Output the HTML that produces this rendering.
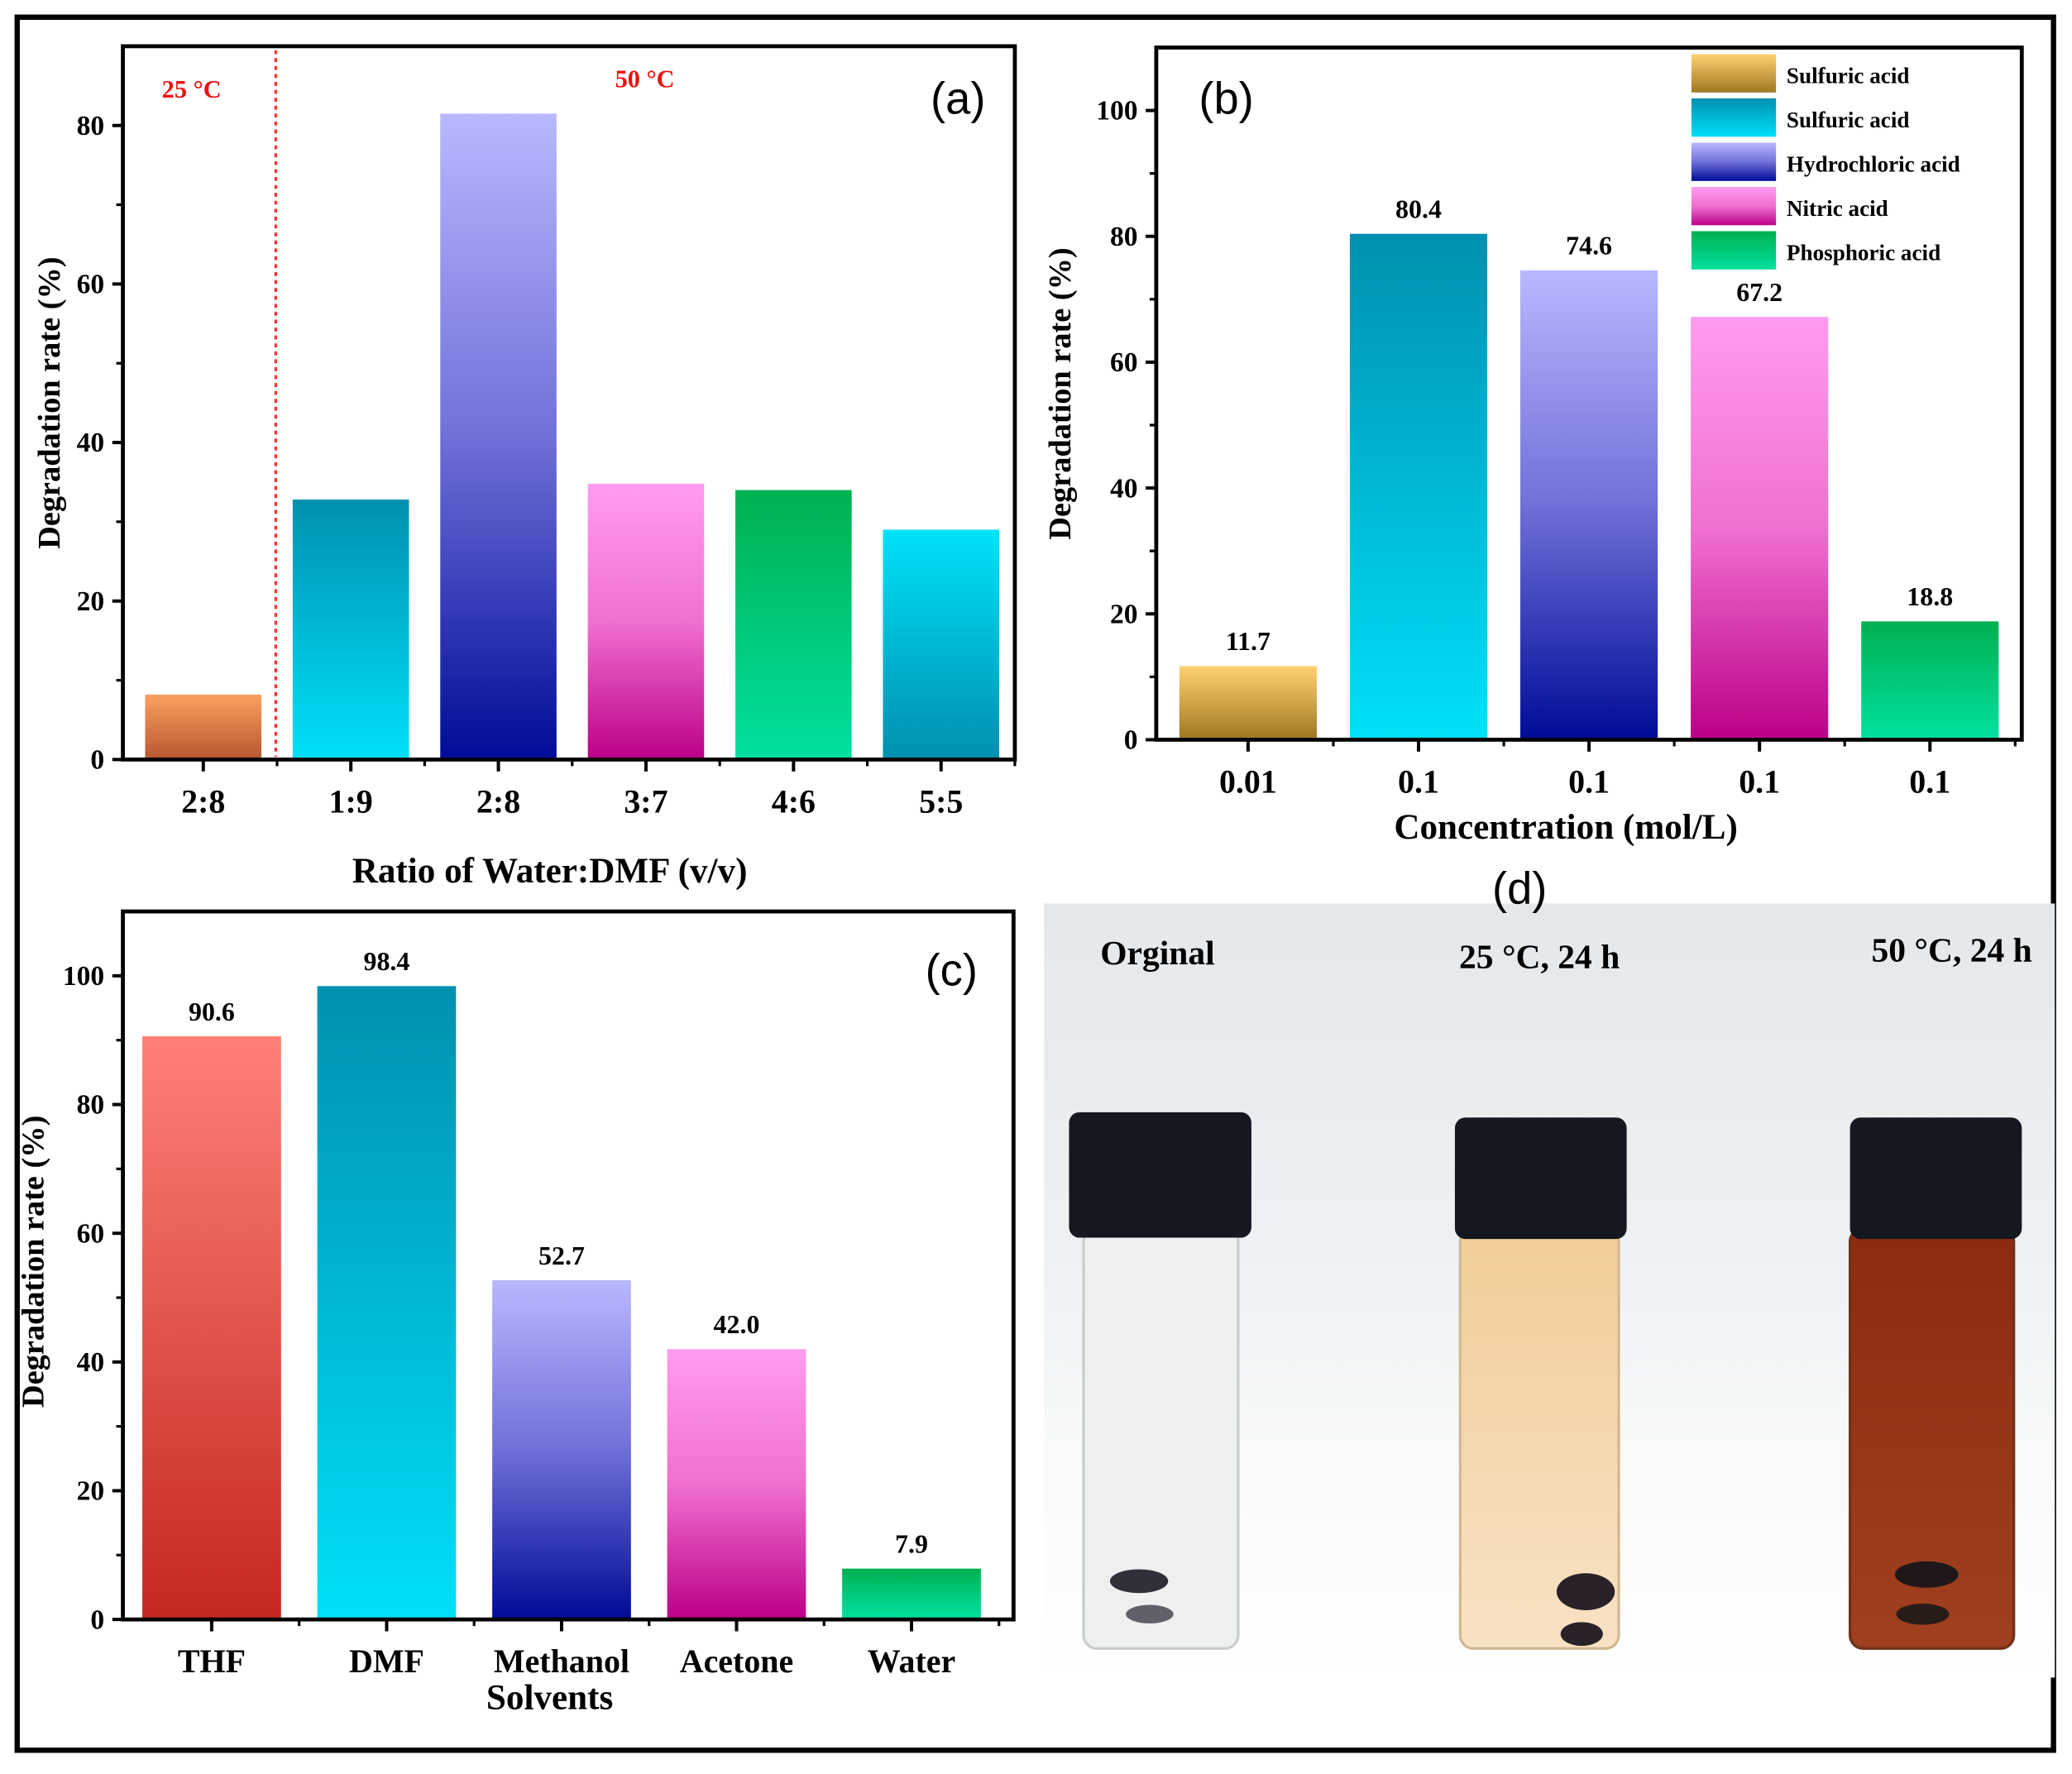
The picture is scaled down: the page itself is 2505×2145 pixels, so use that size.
<!DOCTYPE html>
<html><head><meta charset="utf-8"><style>
html,body{margin:0;padding:0;background:#fff;}
svg{display:block;}
text{font-family:"Liberation Serif",serif;font-weight:bold;}
</style></head><body>
<svg id="fig" width="2505" height="2145" viewBox="0 0 1568 1343" preserveAspectRatio="none" xmlns="http://www.w3.org/2000/svg">
<defs>
<linearGradient id="gOrange" x1="0" y1="0" x2="0" y2="1"><stop offset="0" stop-color="#fba060"/><stop offset="1" stop-color="#b85830"/></linearGradient>
<linearGradient id="gTealDark" x1="0" y1="0" x2="0" y2="1"><stop offset="0" stop-color="#0090b0"/><stop offset="1" stop-color="#00e0f8"/></linearGradient>
<linearGradient id="gBlue" x1="0" y1="0" x2="0" y2="1"><stop offset="0" stop-color="#b8b8ff"/><stop offset="0.5" stop-color="#7070d8"/><stop offset="1" stop-color="#000c98"/></linearGradient>
<linearGradient id="gPink" x1="0" y1="0" x2="0" y2="1"><stop offset="0" stop-color="#ff9cf0"/><stop offset="0.5" stop-color="#f070d0"/><stop offset="1" stop-color="#bc0088"/></linearGradient>
<linearGradient id="gGreen" x1="0" y1="0" x2="0" y2="1"><stop offset="0" stop-color="#00b050"/><stop offset="1" stop-color="#00e0a0"/></linearGradient>
<linearGradient id="gTealLight" x1="0" y1="0" x2="0" y2="1"><stop offset="0" stop-color="#00e2f8"/><stop offset="1" stop-color="#0090b0"/></linearGradient>
<linearGradient id="gGold" x1="0" y1="0" x2="0" y2="1"><stop offset="0" stop-color="#ffd070"/><stop offset="1" stop-color="#a07822"/></linearGradient>
<linearGradient id="gRed" x1="0" y1="0" x2="0" y2="1"><stop offset="0" stop-color="#ff8078"/><stop offset="1" stop-color="#c42820"/></linearGradient>
<linearGradient id="gPhoto" x1="0" y1="0" x2="0" y2="1"><stop offset="0" stop-color="#e4e8ea"/><stop offset="0.45" stop-color="#edf1f3"/><stop offset="0.7" stop-color="#f7f9fa"/><stop offset="1" stop-color="#ffffff"/></linearGradient>
<linearGradient id="gAmber" x1="0" y1="0" x2="0" y2="1"><stop offset="0" stop-color="#f2cc98"/><stop offset="1" stop-color="#f8e2c4"/></linearGradient>
<linearGradient id="gBrown" x1="0" y1="0" x2="0" y2="1"><stop offset="0" stop-color="#8c2a10"/><stop offset="1" stop-color="#a04020"/></linearGradient>
</defs>
<rect x="13" y="13" width="1541" height="1312" fill="#fff" stroke="#000" stroke-width="4"/>
<g id="pa"></g>
<g id="pb"></g>
<g id="pc"></g>
<g id="pd">
  <rect x="790" y="684" width="765" height="586" fill="url(#gPhoto)"/>
  <text x="1150" y="684" font-size="34" text-anchor="middle" style="font-family:'Liberation Sans',sans-serif;font-weight:normal">(d)</text>
  <text x="876" y="730" font-size="26" text-anchor="middle">Orginal</text>
  <text x="1165" y="733" font-size="26" text-anchor="middle">25 °C, 24 h</text>
  <text x="1477" y="728" font-size="26" text-anchor="middle">50 °C, 24 h</text>
  <g>
    <rect x="820" y="930" width="117" height="318" rx="10" fill="#eef0f0" stroke="#c8cccc" stroke-width="2"/>
    <rect x="809" y="842" width="138" height="95" rx="8" fill="#141820"/>
    <ellipse cx="862" cy="1197" rx="22" ry="9" fill="#30303a"/>
    <ellipse cx="870" cy="1222" rx="18" ry="7" fill="#60606a"/>
  </g>
  <g>
    <rect x="1105" y="930" width="120" height="318" rx="10" fill="url(#gAmber)" stroke="#d0b890" stroke-width="2"/>
    <rect x="1101" y="846" width="130" height="92" rx="8" fill="#141820"/>
    <ellipse cx="1200" cy="1205" rx="22" ry="14" fill="#2a2228"/>
    <ellipse cx="1197" cy="1237" rx="16" ry="9" fill="#2a2228"/>
  </g>
  <g>
    <rect x="1400" y="930" width="124" height="318" rx="10" fill="url(#gBrown)" stroke="#703018" stroke-width="2"/>
    <rect x="1400" y="846" width="130" height="92" rx="8" fill="#141820"/>
    <ellipse cx="1458" cy="1192" rx="24" ry="10" fill="#201818"/>
    <ellipse cx="1455" cy="1222" rx="20" ry="8" fill="#281c18"/>
  </g>
</g>
</svg>
<script>
// Panel (a)
const aCats = ["2:8","1:9","2:8","3:7","4:6","5:5"];
const aVals = [8.2, 32.8, 81.5, 34.8, 34.0, 29.0];
const aTicks = [0,20,40,60,80];
// Panel (b)
const bCats = ["0.01","0.1","0.1","0.1","0.1"];
const bVals = [11.7, 80.4, 74.6, 67.2, 18.8];
const bLabels = ["11.7","80.4","74.6","67.2","18.8"];
const bLegend = ["Sulfuric acid","Sulfuric acid","Hydrochloric acid","Nitric acid","Phosphoric acid"];
const bTicks = [0,20,40,60,80,100];
// Panel (c)
const cCats = ["THF","DMF","Methanol","Acetone","Water"];
const cVals = [90.6, 98.4, 52.7, 42.0, 7.9];
const cLabels = ["90.6","98.4","52.7","42.0","7.9"];
const cTicks = [0,20,40,60,80,100];

const NS = "http://www.w3.org/2000/svg";
function mk(parent, tag, attrs, txt){
  const e = document.createElementNS(NS, tag);
  for (const k in attrs) e.setAttribute(k, attrs[k]);
  if (txt !== undefined) e.textContent = txt;
  parent.appendChild(e);
  return e;
}
function chart(g, o){
  const {x0,x1,y0,y1,ymax,cats,vals,labels,ticks,fills,bw,minor,prefix,frameX1} = o;
  const ys = v => y0 - (v/ymax)*(y0-y1);
  const n = cats.length, step = (x1-x0)/n;
  const xs = i => x0 + step*(i+0.5);
  vals.forEach((v,i)=>{
    const r = mk(g,"rect",{x:xs(i)-bw/2,y:ys(v),width:bw,height:y0-ys(v)-1,fill:fills[i]});
    
    
    if (labels){
      const t = mk(g,"text",{x:xs(i),y:ys(v)-12,"font-size":20,"text-anchor":"middle"},labels[i]);
      
      
    }
  });
  const fx0 = o.frameX0 || x0, fx1 = frameX1 || x1;
  const ax = mk(g,"rect",{x:fx0,y:y1,width:fx1-fx0,height:y0-y1,fill:"none",stroke:"#000","stroke-width":3});
  
  
  ticks.forEach(tv=>{
    mk(g,"line",{x1:fx0-8,x2:fx0,y1:ys(tv),y2:ys(tv),stroke:"#000","stroke-width":2.5});
    const t = mk(g,"text",{x:fx0-14,y:ys(tv)+7,"font-size":21,"text-anchor":"end"},String(tv));
    
    
  });
  for (let v=minor; v<ymax; v+=minor*2){
    mk(g,"line",{x1:fx0-5,x2:fx0,y1:ys(v),y2:ys(v),stroke:"#000","stroke-width":2});
  }
  cats.forEach((c,i)=>{
    mk(g,"line",{x1:xs(i),x2:xs(i),y1:y0,y2:y0+9,stroke:"#000","stroke-width":2.5});
    mk(g,"line",{x1:x0+step*(i+1),x2:x0+step*(i+1),y1:y0,y2:y0+5,stroke:"#000","stroke-width":2});
    const t = mk(g,"text",{x:xs(i),y:y0+40,"font-size":25,"text-anchor":"middle"},c);
    
    
  });
  return {xs,ys,step};
}
function ytitle(g,x,y,txt,name){
  const t = mk(g,"text",{x:x,y:y,"font-size":24,"text-anchor":"middle",transform:"rotate(-90 "+x+" "+y+")"},txt);
  
  
}
function tx(g,attrs,txt,name){
  const t = mk(g,"text",attrs,txt);
  
  
  return t;
}

// (a)
const ga = document.getElementById('pa');
const A = chart(ga,{x0:98,x1:768,frameX0:93,frameX1:768,y0:575,y1:35,ymax:90,cats:aCats,vals:aVals,labels:null,ticks:aTicks,
  fills:["url(#gOrange)","url(#gTealDark)","url(#gBlue)","url(#gPink)","url(#gGreen)","url(#gTealLight)"],bw:88,minor:10,prefix:'a'});
const dl = mk(ga,"line",{x1:A.xs(0)+A.step/2-1,x2:A.xs(0)+A.step/2-1,y1:38,y2:573,stroke:"#ff3030","stroke-width":2,"stroke-dasharray":"3,3"});


tx(ga,{x:145,y:74,"font-size":19,"text-anchor":"middle",fill:"#ee1010"},"25 °C","label-25c");
tx(ga,{x:488,y:66,"font-size":19,"text-anchor":"middle",fill:"#ee1010"},"50 °C","label-50c");
tx(ga,{x:725,y:86,"font-size":34,"text-anchor":"middle",style:"font-family:'Liberation Sans',sans-serif;font-weight:normal"},"(a)","panel-a-label");
ytitle(ga,45,305,"Degradation rate (%)","a-y-axis-title");
tx(ga,{x:416,y:668,"font-size":27,"text-anchor":"middle"},"Ratio of Water:DMF (v/v)","a-x-axis-title");

// (b)
const gb = document.getElementById('pb');
chart(gb,{x0:880,x1:1525,frameX0:875,frameX1:1530,y0:560,y1:36,ymax:110,cats:bCats,vals:bVals,labels:bLabels,ticks:bTicks,
  fills:["url(#gGold)","url(#gTealDark)","url(#gBlue)","url(#gPink)","url(#gGreen)"],bw:104,minor:10,prefix:'b'});
const legFills = ["url(#gGold)","url(#gTealDark)","url(#gBlue)","url(#gPink)","url(#gGreen)"];
bLegend.forEach((l,i)=>{
  const y = 41 + i*33.5;
  const r = mk(gb,"rect",{x:1280,y:y,width:64,height:29,fill:legFills[i]});
  
  
  tx(gb,{x:1352,y:y+22,"font-size":17},l,'legend-entry-'+(i+1));
});
tx(gb,{x:928,y:86,"font-size":34,"text-anchor":"middle",style:"font-family:'Liberation Sans',sans-serif;font-weight:normal"},"(b)","panel-b-label");
ytitle(gb,810,298,"Degradation rate (%)","b-y-axis-title");
tx(gb,{x:1185,y:635,"font-size":27,"text-anchor":"middle"},"Concentration  (mol/L)","b-x-axis-title");

// (c)
const gc = document.getElementById('pc');
chart(gc,{x0:94,x1:756,frameX0:93,frameX1:767,y0:1226,y1:690,ymax:110,cats:cCats,vals:cVals,labels:cLabels,ticks:cTicks,
  fills:["url(#gRed)","url(#gTealDark)","url(#gBlue)","url(#gPink)","url(#gGreen)"],bw:105,minor:10,prefix:'c'});
tx(gc,{x:720,y:746,"font-size":34,"text-anchor":"middle",style:"font-family:'Liberation Sans',sans-serif;font-weight:normal"},"(c)","panel-c-label");
ytitle(gc,33,955,"Degradation rate (%)","c-y-axis-title");
tx(gc,{x:416,y:1294,"font-size":27,"text-anchor":"middle"},"Solvents","c-x-axis-title");
</script>
</body></html>
